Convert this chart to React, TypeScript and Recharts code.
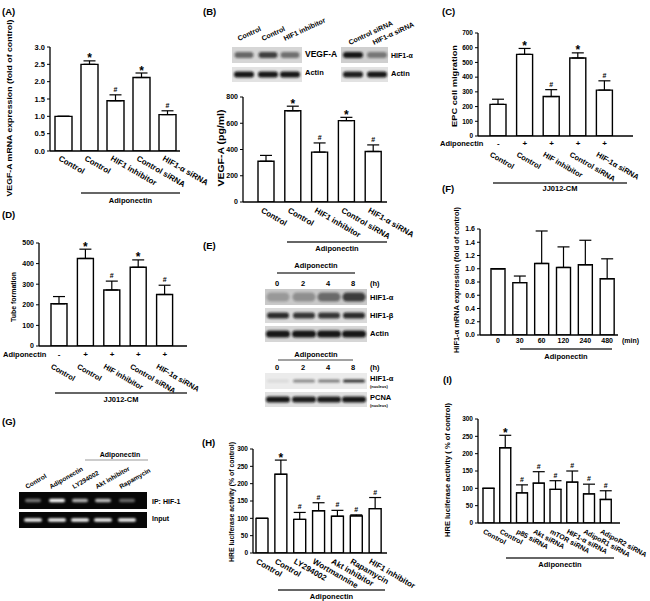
import React from 'react';
import { BarChart, Bar, XAxis, YAxis, ErrorBar, LabelList } from 'recharts';

const FONT = '"Liberation Sans", Arial, Helvetica, sans-serif';

// ---------- Panel A ----------
const aCategories = ['Control', 'Control', 'HIF1 inhibitor', 'Control siRNA', 'HIF1-α siRNA'];
const aValues = [1.0, 2.5, 1.45, 2.12, 1.05];
const aErrors = [0, 0.1, 0.17, 0.13, 0.11];
const aMarks = ['', '*', '#', '*', '#'];
const aTicks = [0, 0.5, 1.0, 1.5, 2.0, 2.5, 3.0];

// ---------- Panel B ----------
const bCategories = ['Control', 'Control', 'HIF1 inhibitor', 'Control siRNA', 'HIF1-α siRNA'];
const bValues = [310, 695, 380, 620, 385];
const bErrors = [45, 35, 70, 25, 50];
const bMarks = ['', '*', '#', '*', '#'];
const bTicks = [0, 200, 400, 600, 800];
const bLaneLabelsLeft = ['Control', 'Control', 'HIF1 inhibitor'];
const bLaneLabelsRight = ['Control siRNA', 'HIF1-α siRNA'];
const bVegfBands = [0.55, 0.75, 0.5];
const bActinLeftBands = [0.95, 0.95, 0.95];
const bHifBands = [0.95, 0.45];
const bActinRightBands = [0.92, 0.95];

// ---------- Panel C ----------
const cCategories = ['Control', 'Control', 'HIF inhibitor', 'Control siRNA', 'HIF-1α siRNA'];
const cValues = [215, 555, 268, 530, 312];
const cErrors = [35, 40, 47, 35, 63];
const cMarks = ['', '*', '#', '*', '#'];
const cSigns = ['-', '+', '+', '+', '+'];
const cTicks = [0, 100, 200, 300, 400, 500, 600, 700];

// ---------- Panel D ----------
const dCategories = ['Control', 'Control', 'HIF inhibitor', 'Control siRNA', 'HIF-1α siRNA'];
const dValues = [205, 425, 272, 382, 250];
const dErrors = [35, 45, 43, 36, 45];
const dMarks = ['', '*', '#', '*', '#'];
const dSigns = ['-', '+', '+', '+', '+'];
const dTicks = [0, 100, 200, 300, 400, 500];

// ---------- Panel E ----------
const eTimes = ['0', '2', '4', '8'];
const eHif1aBands = [0.25, 0.3, 0.5, 0.75];
const eHif1bBands = [0.85, 0.8, 0.8, 0.85];
const eActinBands = [0.95, 0.95, 0.95, 0.95];
const eNucHifBands = [0.08, 0.45, 0.5, 0.85];
const ePcnaBands = [0.95, 0.92, 0.92, 0.95];

// ---------- Panel F ----------
const fCategories = ['0', '30', '60', '120', '240', '480'];
const fValues = [1.0, 0.79, 1.08, 1.02, 1.06, 0.85];
const fErrors = [0, 0.1, 0.49, 0.31, 0.37, 0.3];
const fMarks = ['', '', '', '', '', ''];
const fTicks = [0, 0.2, 0.4, 0.6, 0.8, 1.0, 1.2, 1.4, 1.6];

// ---------- Panel G ----------
const gLanes = ['Control', 'Adiponectin', 'LY294002', 'Akt inhibitor', 'Rapamycin'];
const gIpBands = [0.45, 1.0, 0.7, 0.75, 0.4];
const gInputBands = [0.95, 0.95, 0.95, 0.95, 0.95];

// ---------- Panel H ----------
const hCategories = ['Control', 'Control', 'LY294002', 'Wortmannine', 'Akt inhibitor', 'Rapamycin', 'HIF1 inhibitor'];
const hValues = [100, 227, 97, 122, 106, 107, 128];
const hErrors = [0, 41, 20, 23, 17, 3, 32];
const hMarks = ['', '*', '#', '#', '#', '#', '#'];
const hTicks = [0, 50, 100, 150, 200, 250, 300];

// ---------- Panel I ----------
const iCategories = ['Control', 'Control', 'p85 siRNA', 'Akt siRNA', 'mTOR siRNA', 'HIF1-α siRNA', 'AdipoR1 siRNA', 'AdipoR2 siRNA'];
const iValues = [100, 217, 87, 115, 97, 118, 84, 68];
const iErrors = [0, 36, 23, 33, 25, 32, 28, 25];
const iMarks = ['', '*', '#', '#', '#', '#', '#', '#'];
const iTicks = [0, 50, 100, 150, 200, 250, 300];

const renderMark = (props: any) => {
  const { x, y, width, height, value } = props;
  const parts = String(value).split('|');
  const m = parts[0];
  if (!m) return null;
  const e = Number(parts[1]);
  const v = Number(parts[2]);
  const ppu = v ? height / v : 0;
  const top = y - e * ppu;
  const star = m === '*';
  return (
    <text
      x={x + width / 2}
      y={star ? top + 1.5 : top - 3}
      textAnchor="middle"
      fontSize={star ? 12 : 7}
      fontWeight="bold"
      fontFamily={FONT}
      fill="#000"
    >
      {m}
    </text>
  );
};

const slantTick = (cats: string[], dx: number, dy: number, fs: number, angle: number, signs?: string[], signDy?: number) =>
  (props: any) => {
    const { x, y, payload } = props;
    const i = Number(payload.value);
    return (
      <g>
        {signs ? (
          <text x={x} y={y + (signDy || 8)} textAnchor="middle" dominantBaseline="middle" fontSize={8} fontWeight="bold" fontFamily={FONT} fill="#000">
            {signs[i]}
          </text>
        ) : null}
        <text
          transform={`translate(${x + dx},${y + dy}) rotate(${angle})`}
          textAnchor="start"
          fontSize={fs}
          fontWeight="bold"
          fontFamily={FONT}
          fill="#000"
        >
          {cats[i]}
        </text>
      </g>
    );
  };

const flatTick = (cats: string[]) => (props: any) => {
  const { x, y, payload } = props;
  return (
    <text x={x} y={y + 8} textAnchor="middle" fontSize={7} fontWeight="bold" fontFamily={FONT} fill="#000">
      {cats[Number(payload.value)]}
    </text>
  );
};

type PanelProps = {
  cats: string[];
  values: number[];
  errors: number[];
  marks: string[];
  ticks: number[];
  digits: number;
  x0: number;
  x1: number;
  yTop: number;
  yBottom: number;
  padL: number;
  padR: number;
  barSize: number;
  tickFs: number;
  tick: any;
};

function BarPanel(p: PanelProps) {
  const data = p.cats.map((c, i) => ({
    idx: i,
    name: c,
    value: p.values[i],
    err: [0, p.errors[i]],
    tag: `${p.marks[i] || ''}|${p.errors[i]}|${p.values[i]}`,
  }));
  const YW = 40;
  const MT = 14;
  const MR = 50;
  const XH = 60;
  const width = p.x1 - p.x0 + YW + MR;
  const height = p.yBottom - p.yTop + MT + XH;
  return (
    <div style={{ position: 'absolute', left: p.x0 - YW, top: p.yTop - MT }}>
      <BarChart width={width} height={height} data={data} margin={{ top: MT, right: MR, bottom: 0, left: 0 }} barCategoryGap={0}>
        <XAxis
          dataKey="idx"
          type="category"
          height={XH}
          interval={0}
          axisLine={{ stroke: '#000', strokeWidth: 1.3 }}
          tickLine={false}
          tickSize={0}
          tickMargin={0}
          padding={{ left: p.padL, right: p.padR }}
          tick={p.tick}
        />
        <YAxis
          width={YW}
          type="number"
          domain={[0, p.ticks[p.ticks.length - 1]]}
          ticks={p.ticks}
          interval={0}
          allowDataOverflow
          tickFormatter={(v: number) => v.toFixed(p.digits)}
          axisLine={{ stroke: '#000', strokeWidth: 1.3 }}
          tickLine={{ stroke: '#000', strokeWidth: 1 }}
          tickSize={3}
          tickMargin={2}
          tick={{ fontSize: p.tickFs, fontWeight: 'bold', fill: '#000', fontFamily: FONT }}
        />
        <Bar dataKey="value" fill="#fff" stroke="#000" strokeWidth={1.4} barSize={p.barSize} isAnimationActive={false}>
          <ErrorBar dataKey="err" width={6} stroke="#000" strokeWidth={1.2} direction="y" />
          <LabelList dataKey="tag" content={renderMark} />
        </Bar>
      </BarChart>
    </div>
  );
}

type BlotProps = {
  x: number; y: number; w: number; h: number; bg: string;
  lanes: number[]; levels: number[]; bandW: number; bandH: number; invert?: boolean;
};

function Blot(b: BlotProps) {
  return (
    <g>
      <rect x={b.x} y={b.y} width={b.w} height={b.h} fill={b.bg} />
      {b.levels.map((v, i) => (
        <rect
          key={i}
          x={b.lanes[i] - b.bandW / 2}
          y={b.y + b.h / 2 - b.bandH / 2}
          width={b.bandW}
          height={b.bandH}
          rx={b.bandH / 2}
          fill={b.invert ? '#fff' : '#111'}
          opacity={v}
          filter="url(#blur)"
        />
      ))}
    </g>
  );
}

const T = (props: any) => (
  <text fontFamily={FONT} fontWeight="bold" fill="#000" {...props} />
);

const YLabel = ({ cx, cy, len, fs, children }: any) => (
  <text
    transform={`translate(${cx},${cy}) rotate(-90)`}
    textAnchor="middle"
    dominantBaseline="middle"
    fontSize={fs}
    fontWeight="bold"
    fontFamily={FONT}
    fill="#000"
    textLength={len}
    lengthAdjust="spacingAndGlyphs"
  >
    {children}
  </text>
);

const GroupLine = ({ x1, x2, y, label, ty }: any) => (
  <g>
    <line x1={x1} x2={x2} y1={y} y2={y} stroke="#333" strokeWidth={1.5} />
    <T x={(x1 + x2) / 2} y={ty} textAnchor="middle" dominantBaseline="middle" fontSize={7.5}>{label}</T>
  </g>
);

const SlantLabel = ({ x, y, angle, fs, children }: any) => (
  <T transform={`translate(${x},${y}) rotate(${angle})`} fontSize={fs}>{children}</T>
);

export default function App() {
  const bLeftLanes = [244, 268, 290];
  const bRightLanes = [353, 377];
  const eLanes = [278, 304, 329, 354];
  const gLaneX = [33, 57, 80, 103, 127];
  return (
    <div style={{ position: 'absolute', left: 0, top: 0, width: 650, height: 601, background: '#fff', overflow: 'hidden' }}>
      <BarPanel cats={aCategories} values={aValues} errors={aErrors} marks={aMarks} ticks={aTicks} digits={1}
        x0={50} x1={180} yTop={46.7} yBottom={150.7} padL={0} padR={0} barSize={17} tickFs={7.5}
        tick={slantTick(aCategories, -5, 9, 8, 30)} />
      <BarPanel cats={bCategories} values={bValues} errors={bErrors} marks={bMarks} ticks={bTicks} digits={0}
        x0={243} x1={387} yTop={97} yBottom={202} padL={10} padR={0} barSize={16} tickFs={7}
        tick={slantTick(bCategories, -6, 10, 8, 30)} />
      <BarPanel cats={cCategories} values={cValues} errors={cErrors} marks={cMarks} ticks={cTicks} digits={0}
        x0={478} x1={633} yTop={33} yBottom={136} padL={7} padR={15} barSize={16} tickFs={6.5}
        tick={slantTick(cCategories, -9, 20, 7.5, 30, cSigns, 8)} />
      <BarPanel cats={dCategories} values={dValues} errors={dErrors} marks={dMarks} ticks={dTicks} digits={0}
        x0={39} x1={187} yTop={243} yBottom={346} padL={7} padR={9} barSize={16} tickFs={7}
        tick={slantTick(dCategories, -9, 22, 7.5, 30, dSigns, 9)} />
      <BarPanel cats={fCategories} values={fValues} errors={fErrors} marks={fMarks} ticks={fTicks} digits={1}
        x0={480} x1={618} yTop={229} yBottom={335} padL={7} padR={0} barSize={14} tickFs={7}
        tick={flatTick(fCategories)} />
      <BarPanel cats={hCategories} values={hValues} errors={hErrors} marks={hMarks} ticks={hTicks} digits={0}
        x0={253} x1={387} yTop={449} yBottom={553} padL={0} padR={2} barSize={12} tickFs={6.5}
        tick={slantTick(hCategories, -7, 10, 8, 30)} />
      <BarPanel cats={iCategories} values={iValues} errors={iErrors} marks={iMarks} ticks={iTicks} digits={0}
        x0={478} x1={620} yTop={419} yBottom={523} padL={2} padR={6} barSize={11} tickFs={6.5}
        tick={slantTick(iCategories, -6, 10, 7, 28)} />

      <svg width={650} height={601} style={{ position: 'absolute', left: 0, top: 0, pointerEvents: 'none' }}>
        <defs>
          <filter id="blur" x="-50%" y="-150%" width="200%" height="400%">
            <feGaussianBlur stdDeviation="0.9" />
          </filter>
        </defs>

        {/* panel letters */}
        <T x={2} y={12} fontSize={9.5} dominantBaseline="middle">(A)</T>
        <T x={203} y={12} fontSize={9.5} dominantBaseline="middle">(B)</T>
        <T x={442} y={12} fontSize={9.5} dominantBaseline="middle">(C)</T>
        <T x={2} y={215} fontSize={9.5} dominantBaseline="middle">(D)</T>
        <T x={203} y={246} fontSize={9.5} dominantBaseline="middle">(E)</T>
        <T x={442} y={189} fontSize={9.5} dominantBaseline="middle">(F)</T>
        <T x={2} y={422} fontSize={9.5} dominantBaseline="middle">(G)</T>
        <T x={202} y={443} fontSize={9.5} dominantBaseline="middle">(H)</T>
        <T x={443} y={380} fontSize={9.5} dominantBaseline="middle">(I)</T>

        {/* y labels */}
        <YLabel cx={10} cy={108} len={177} fs={8}>VEGF-A mRNA expression (fold of control)</YLabel>
        <YLabel cx={222} cy={148} len={77} fs={8.5}>VEGF-A (pg/ml)</YLabel>
        <YLabel cx={455} cy={86} len={82} fs={8}>EPC cell migration</YLabel>
        <YLabel cx={14} cy={297} len={50} fs={7}>Tube formation</YLabel>
        <YLabel cx={457} cy={280} len={146} fs={7}>HIF1-α mRNA expression (fold of control)</YLabel>
        <YLabel cx={232} cy={502} len={120} fs={6.5}>HRE luciferase activity (% of control)</YLabel>
        <YLabel cx={448} cy={470} len={134} fs={7}>HRE luciferase activity ( % of control)</YLabel>

        {/* group lines */}
        <GroupLine x1={81} x2={180} y={193} ty={201} label="Adiponectin" />
        <GroupLine x1={287} x2={387} y={242} ty={249} label="Adiponectin" />
        <GroupLine x1={493} x2={627} y={183} ty={189} label="JJ012-CM" />
        <GroupLine x1={55} x2={187} y={393} ty={400} label="JJ012-CM" />
        <GroupLine x1={520} x2={612} y={349} ty={357} label="Adiponectin" />
        <GroupLine x1={278} x2={385} y={590} ty={597} label="Adiponectin" />
        <GroupLine x1={506} x2={614} y={558} ty={565} label="Adiponectin" />

        <T x={440} y={144} fontSize={7.5} dominantBaseline="middle">Adiponectin</T>
        <T x={3} y={355} fontSize={7.5} dominantBaseline="middle">Adiponectin</T>
        <T x={622} y={343} fontSize={7}>(min)</T>

        {/* Panel B blots */}
        {bLaneLabelsLeft.map((l, i) => (
          <SlantLabel key={'bl' + i} x={bLeftLanes[i] - 5} y={41} angle={-25} fs={7}>{l}</SlantLabel>
        ))}
        {bLaneLabelsRight.map((l, i) => (
          <SlantLabel key={'br' + i} x={bRightLanes[i] - 3} y={45} angle={-25} fs={7}>{l}</SlantLabel>
        ))}
        <Blot x={232} y={47} w={70} h={16} bg="#d6d6d6" lanes={bLeftLanes} levels={bVegfBands} bandW={19} bandH={6} />
        <Blot x={232} y={67} w={70} h={15} bg="#e2e2e2" lanes={bLeftLanes} levels={bActinLeftBands} bandW={20} bandH={6} />
        <Blot x={341} y={47} w={47} h={16} bg="#cfcfcf" lanes={bRightLanes} levels={bHifBands} bandW={20} bandH={6} />
        <Blot x={341} y={67} w={47} h={15} bg="#e2e2e2" lanes={bRightLanes} levels={bActinRightBands} bandW={20} bandH={6} />
        <T x={305} y={55} fontSize={8.5} dominantBaseline="middle">VEGF-A</T>
        <T x={305} y={73} fontSize={7.5} dominantBaseline="middle">Actin</T>
        <T x={391} y={56} fontSize={7} dominantBaseline="middle">HIF1-α</T>
        <T x={391} y={74} fontSize={7.5} dominantBaseline="middle">Actin</T>

        {/* Panel E blots */}
        <T x={316} y={266} textAnchor="middle" dominantBaseline="middle" fontSize={7.5}>Adiponectin</T>
        <line x1={277} x2={355} y1={273} y2={273} stroke="#444" strokeWidth={1.5} />
        {eTimes.map((t, i) => (
          <T key={'et' + i} x={eLanes[i] - 1} y={284} textAnchor="middle" dominantBaseline="middle" fontSize={7.5}>{t}</T>
        ))}
        <T x={370} y={284} dominantBaseline="middle" fontSize={7.5}>(h)</T>
        <Blot x={265} y={289} w={102} h={16} bg="#c9c9c9" lanes={eLanes} levels={eHif1aBands} bandW={23} bandH={9} />
        <Blot x={265} y={308} w={102} h={15} bg="#dadada" lanes={eLanes} levels={eHif1bBands} bandW={22} bandH={6} />
        <Blot x={265} y={326} w={102} h={16} bg="#d6d6d6" lanes={eLanes} levels={eActinBands} bandW={24} bandH={7} />
        <T x={370} y={298} dominantBaseline="middle" fontSize={7.5}>HIF1-α</T>
        <T x={370} y={316} dominantBaseline="middle" fontSize={7.5}>HIF1-β</T>
        <T x={370} y={334} dominantBaseline="middle" fontSize={7.5}>Actin</T>

        <T x={316} y={355} textAnchor="middle" dominantBaseline="middle" fontSize={7.5}>Adiponectin</T>
        <line x1={278} x2={353} y1={360} y2={360} stroke="#444" strokeWidth={1.2} />
        {eTimes.map((t, i) => (
          <T key={'et2' + i} x={eLanes[i] - 1} y={368} textAnchor="middle" dominantBaseline="middle" fontSize={7.5}>{t}</T>
        ))}
        <T x={370} y={368} dominantBaseline="middle" fontSize={7.5}>(h)</T>
        <Blot x={265} y={373} w={102} h={16} bg="#ebebeb" lanes={eLanes} levels={eNucHifBands} bandW={22} bandH={3} />
        <Blot x={265} y={392} w={102} h={15} bg="#e0e0e0" lanes={eLanes} levels={ePcnaBands} bandW={24} bandH={6} />
        <T x={370} y={379} dominantBaseline="middle" fontSize={7.5}>HIF1-α</T>
        <T x={370} y={386.5} dominantBaseline="middle" fontSize={4}>(nucleus)</T>
        <T x={370} y={398} dominantBaseline="middle" fontSize={7.5}>PCNA</T>
        <T x={370} y={405.5} dominantBaseline="middle" fontSize={4}>(nucleus)</T>

        {/* Panel G gel */}
        <T x={120} y={455} textAnchor="middle" dominantBaseline="middle" fontSize={7}>Adiponectin</T>
        <line x1={85} x2={148} y1={460} y2={460} stroke="#999" strokeWidth={1.2} />
        {gLanes.map((l, i) => (
          <SlantLabel key={'gl' + i} x={gLaneX[i] - 6} y={489} angle={-30} fs={6.5}>{l}</SlantLabel>
        ))}
        <Blot x={19} y={492} w={128} h={17} bg="#080808" lanes={gLaneX} levels={gIpBands} bandW={16} bandH={3.5} invert />
        <Blot x={19} y={512} w={128} h={16} bg="#080808" lanes={gLaneX} levels={gInputBands} bandW={18} bandH={3.5} invert />
        <T x={152} y={502} dominantBaseline="middle" fontSize={7}>IP: HIF-1</T>
        <T x={152} y={519} dominantBaseline="middle" fontSize={7}>Input</T>
      </svg>
    </div>
  );
}
